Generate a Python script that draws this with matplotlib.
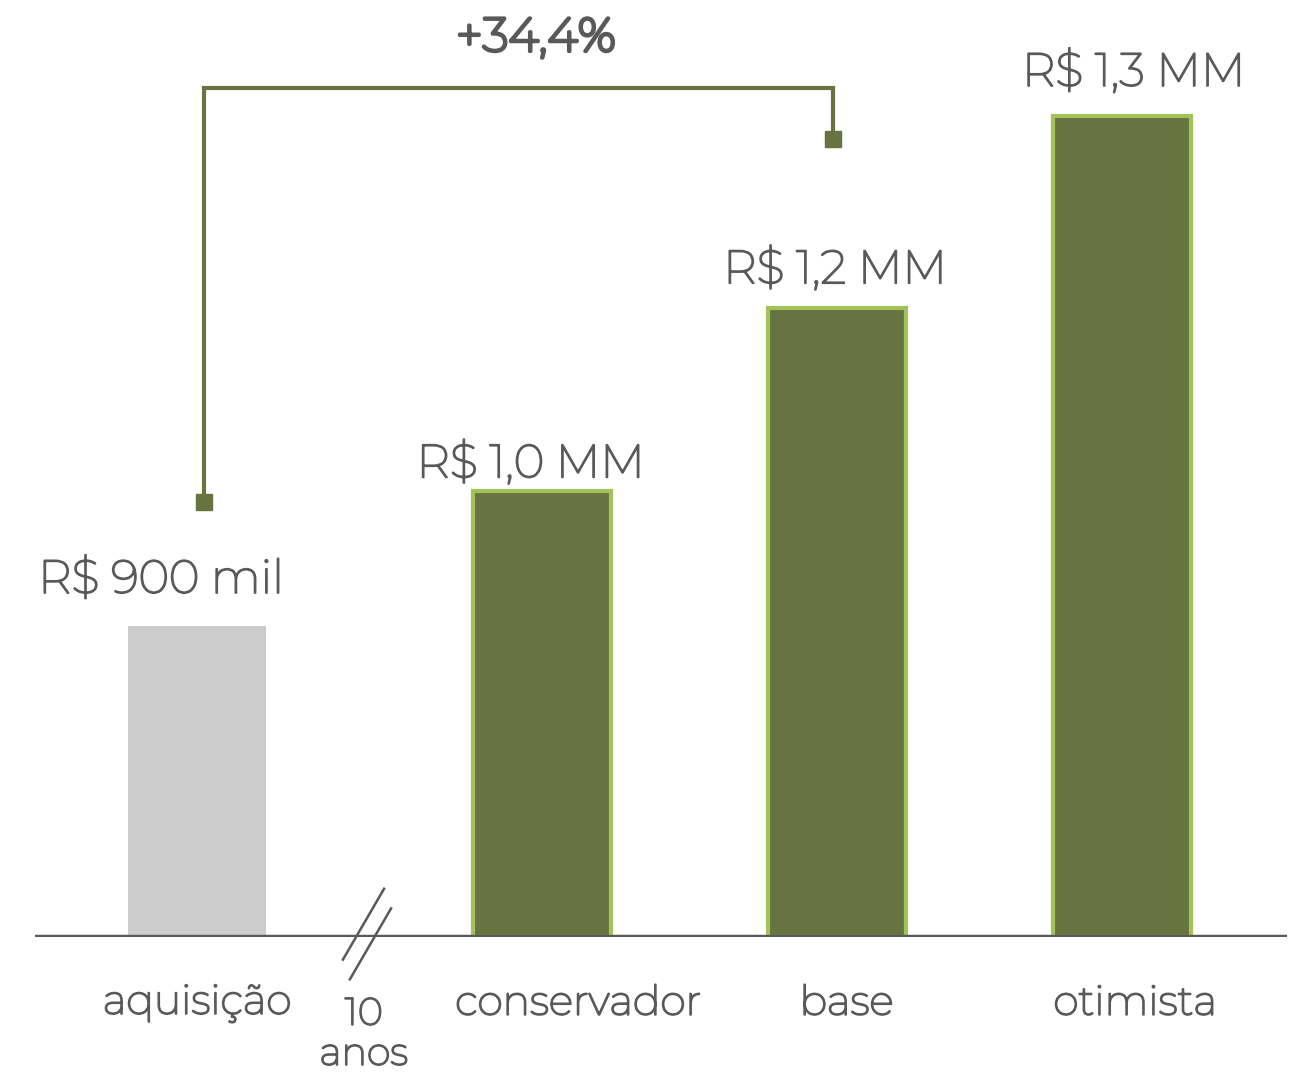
import matplotlib.pyplot as plt
import matplotlib.patheffects as pe
from matplotlib.lines import Line2D

# chart data (R$ mil)
categories = ["aquisição", "conservador", "base", "otimista"]
values = [900, 1031, 1209, 1396]
value_labels = ["R$ 900 mil", "R$ 1,0 MM", "R$ 1,2 MM", "R$ 1,3 MM"]
growth_label = "+34,4%"

positions = [0, 1.19, 2.207, 3.19]
bar_colors = ["#cccccc", "#677442", "#677442", "#677442"]
edge_colors = ["#cccccc", "#a3c35a", "#a3c35a", "#a3c35a"]
text_color = "#595959"
line_color = "#677442"

plt.rcParams['font.family'] = ['Montserrat', 'Open Sans', 'DejaVu Sans']

# installed Montserrat is very thin, so thicken the strokes a bit
regular = [pe.withStroke(linewidth=1.3, foreground=text_color)]
heavy = [pe.withStroke(linewidth=2.6, foreground=text_color)]

fig = plt.figure(figsize=(13.04, 10.73), dpi=100)
ax = fig.add_axes([35 / 1304, 136 / 1073, 1252 / 1304, 937 / 1073])

# bars
for x, v, c, ec in zip(positions, values, bar_colors, edge_colors):
    ax.bar(x, v - 597, bottom=597, width=0.476, color=c,
           edgecolor=ec, linewidth=3 if ec != c else 0, zorder=2)

ax.set_xlim(-0.559, 3.759)
ax.set_ylim(597, 1509)
ax.axis('off')

# baseline
ax.axhline(597, color="#595959", linewidth=3.2, zorder=3)

# value labels
label_dx = [-0.125, -0.04, -0.007, 0.04]
label_dy = [45, 27, 38, 43]
for x, v, lab, dx, dy in zip(positions, values, value_labels, label_dx, label_dy):
    ax.text(x + dx, v + dy, lab, ha='center', va='center',
            fontsize=33.5, color=text_color, path_effects=regular)

# category labels
cat_dx = [0.0, 0.125, 0.033, 0.045]
for x, cat, dx in zip(positions, categories, cat_dx):
    ax.text(x + dx, 597 - 65, cat, ha='center', va='center',
            fontsize=29.5, color=text_color, path_effects=regular)

# time break
ax.text(0.575, 597 - 75, "10", ha='center', va='center', fontsize=27.5,
        color=text_color, path_effects=regular)
ax.text(0.575, 597 - 114, "anos", ha='center', va='center', fontsize=27.5,
        color=text_color, path_effects=regular)
for dx in [0.0, 0.024]:
    ax.add_line(Line2D([0.503 + dx, 0.645 + dx], [597 - 22 - dx * 800, 597 + 47 - dx * 800],
                       color="#595959", linewidth=1.8, zorder=3, clip_on=False))

# growth bracket
x_left = positions[0] + 0.024
x_right = positions[2] - 0.014
y_left = values[0] + 120
y_right = values[2] + 165
y_top = values[3] + 27
ax.plot([x_left, x_left, x_right, x_right], [y_left, y_top, y_top, y_right],
        color=line_color, linewidth=3, solid_joinstyle='miter', zorder=3)
ax.plot([x_left, x_right], [y_left, y_right], linestyle='none', marker='s',
        markersize=12, color=line_color, zorder=4)
ax.text((x_left + x_right) / 2 + 0.06, y_top + 49, growth_label, ha='center', va='center',
        fontsize=34, color=text_color, path_effects=heavy)

fig.savefig("out.png", dpi=100)
